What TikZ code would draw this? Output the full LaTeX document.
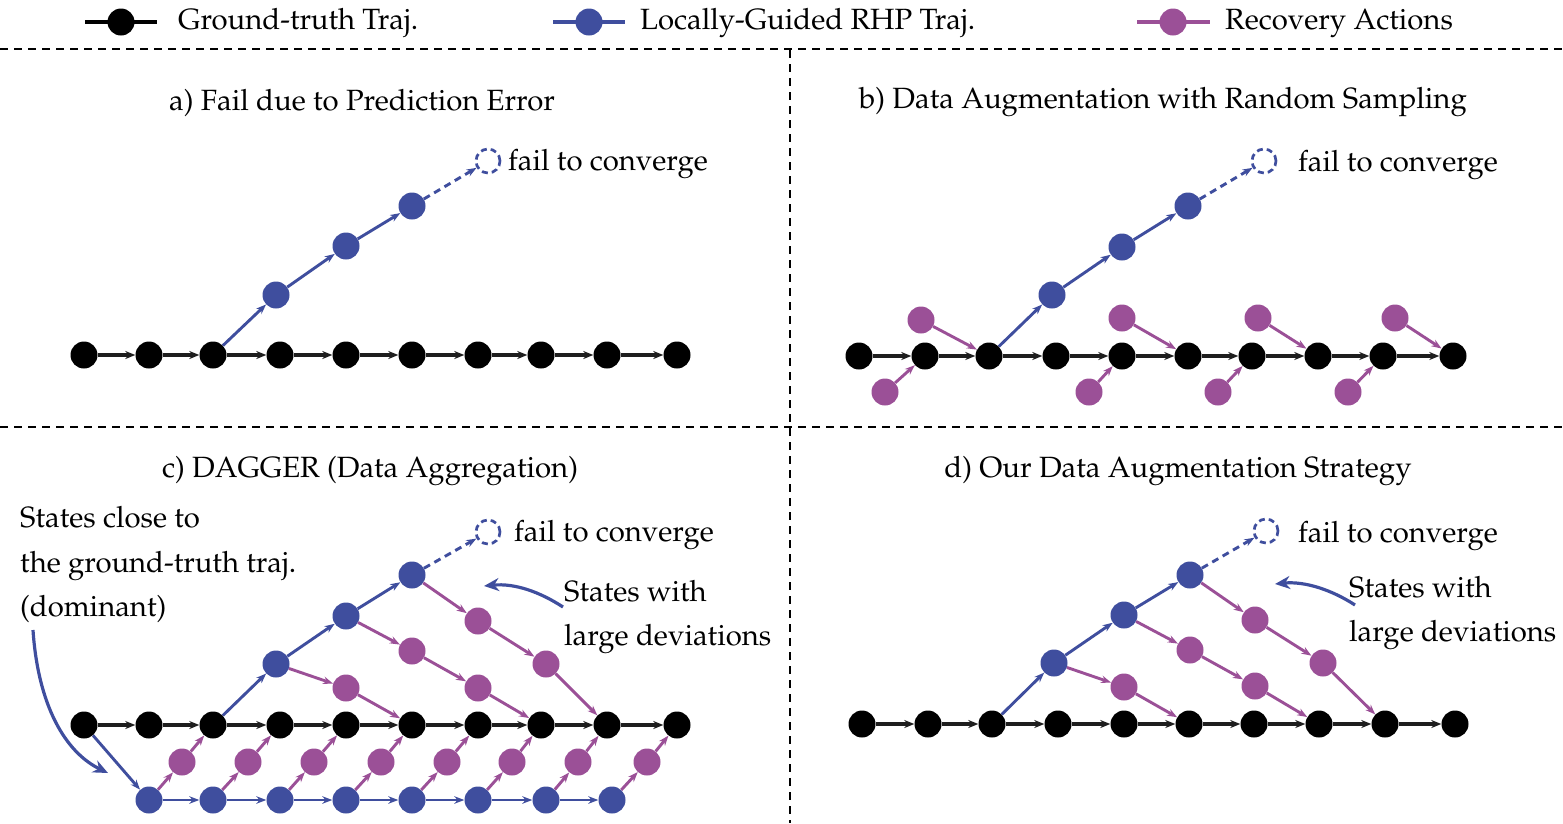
\documentclass[tikz,border=0pt]{standalone}
\usepackage[T1]{fontenc}
\usepackage{mathpazo}
\usetikzlibrary{arrows.meta}
\definecolor{myblue}{HTML}{3F4E9E}
\definecolor{mypurple}{HTML}{9B5097}
\definecolor{myblack}{HTML}{1E1E1E}
\begin{document}
\begin{tikzpicture}[x=1pt,y=-1pt,
  st/.style={circle,inner sep=0pt,minimum size=27pt},
  gt/.style={st,fill=black},
  bs/.style={st,fill=myblue},
  ps/.style={st,fill=mypurple},
  fs/.style={circle,inner sep=0pt,minimum size=24pt,draw=myblue,line width=2.7pt,dash pattern=on 6pt off 4pt},
  ga/.style={draw=myblack,line width=3.4pt,-{Stealth[length=10pt,width=8pt]}},
  ba/.style={draw=myblue,line width=2.9pt,-{Stealth[length=10pt,width=7.5pt]}},
  pa/.style={draw=mypurple,line width=2.9pt,-{Stealth[length=10pt,width=7.5pt]}},
  da/.style={ba,dash pattern=on 7pt off 5pt},
  sep/.style={line width=2.5pt,dash pattern=on 8pt off 6pt},
  txt/.style={font=\fontsize{29.3}{34}\selectfont,inner sep=0pt,anchor=base west},
  ttl/.style={font=\fontsize{29.3}{34}\selectfont,inner sep=0pt,anchor=base},
  big/.style={draw=myblue,line width=3.2pt,-{Stealth[length=15pt,width=13pt]}},
  lgl/.style={line width=3.4pt}
]
\useasboundingbox (0,0) rectangle (1563,823);

% ---------- legend ----------
\coordinate (l1a) at (85,22); \coordinate (l1b) at (157,22);
\coordinate (l2a) at (553,22); \coordinate (l2b) at (625,22);
\coordinate (l3a) at (1137,22); \coordinate (l3b) at (1210,22);
\draw[lgl,black] (l1a) -- (l1b);
\draw[lgl,myblue] (l2a) -- (l2b);
\draw[lgl,mypurple] (l3a) -- (l3b);
\node[gt] (lgn1) at (121,22) {};
\node[bs] (lgn2) at (589,22) {};
\node[ps] (lgn3) at (1173,22) {};
\node[txt] (lg1) at (178,29) {Ground-truth Traj.};
\node[txt] (lg2) at (640,29) {Locally-Guided RHP Traj.};
\node[txt] (lg3) at (1225,29) {Recovery Actions};

% ---------- separators ----------
\draw[sep] (0,49) -- (1563,49);
\draw[sep] (0,427) -- (1563,427);
\draw[sep] (790,50) -- (790,823);

% ---------- titles ----------
\node[ttl] (ta) at (362,110) {a) Fail due to Prediction Error};
\node[ttl] (tb) at (1163,108) {b) Data Augmentation with Random Sampling};
\node[ttl] (tc) at (370,477) {c) DAGGER (Data Aggregation)};
\node[ttl] (td) at (1178,477) {d) Our Data Augmentation Strategy};

% ---------- panel a ----------
\foreach \x [count=\i from 0] in {84,149,213,280,346,412,478,541,607,677}
  \node[gt] (a\i) at (\x,355) {};
\foreach \i [evaluate=\i as \j using int(\i+1)] in {0,...,8}
  \draw[ga] (a\i) -- (a\j);
\node[bs] (ab1) at (276,295) {};
\node[bs] (ab2) at (346,246) {};
\node[bs] (ab3) at (412,206) {};
\node[fs] (af) at (488,161) {};
\draw[ba] (a2) -- (ab1);
\draw[ba] (ab1) -- (ab2);
\draw[ba] (ab2) -- (ab3);
\draw[da] (ab3) -- (af);
\node[txt] (aft) at (508,170) {fail to converge};

% ---------- panel b ----------
\foreach \x [count=\i from 0] in {859,925,989,1056,1122,1188,1252,1318,1383,1453}
  \node[gt] (b\i) at (\x,356) {};
\foreach \i [evaluate=\i as \j using int(\i+1)] in {0,...,8}
  \draw[ga] (b\i) -- (b\j);
\node[bs] (bb1) at (1052,295) {};
\node[bs] (bb2) at (1122,247) {};
\node[bs] (bb3) at (1188,206) {};
\node[fs] (bf) at (1264,161) {};
\draw[ba] (b2) -- (bb1);
\draw[ba] (bb1) -- (bb2);
\draw[ba] (bb2) -- (bb3);
\draw[da] (bb3) -- (bf);
\node[txt] (bft) at (1298,171) {fail to converge};
\node[ps] (bu1) at (921,320) {};
\node[ps] (bu2) at (1122,318) {};
\node[ps] (bu3) at (1258,318) {};
\node[ps] (bu4) at (1395,318) {};
\node[ps] (bl1) at (885,392) {};
\node[ps] (bl2) at (1089,392) {};
\node[ps] (bl3) at (1218,392) {};
\node[ps] (bl4) at (1348,392) {};
\draw[pa] (bu1) -- (b2);
\draw[pa] (bu2) -- (b5);
\draw[pa] (bu3) -- (b7);
\draw[pa] (bu4) -- (b9);
\draw[pa] (bl1) -- (b1);
\draw[pa] (bl2) -- (b4);
\draw[pa] (bl3) -- (b6);
\draw[pa] (bl4) -- (b8);

% ---------- panel c ----------
\foreach \x [count=\i from 0] in {84,149,213,280,346,412,478,541,607,677}
  \node[gt] (c\i) at (\x,725) {};
\foreach \i [evaluate=\i as \j using int(\i+1)] in {0,...,8}
  \draw[ga] (c\i) -- (c\j);
\foreach \x [count=\i from 0] in {149,213,280,346,412,478,546,612}
  \node[bs] (cb\i) at (\x,800) {};
\foreach \x [count=\i from 0] in {182,248,314,381,447,512,578,647}
  \node[ps] (cm\i) at (\x,762) {};
\draw[ba] (c0) -- (cb0);
\foreach \i [evaluate=\i as \j using int(\i+1)] in {0,...,6}
  \draw[ba] (cb\i) -- (cb\j);
\foreach \i [evaluate=\i as \k using int(\i+2)] in {0,...,7}
  {\draw[pa] (cb\i) -- (cm\i); \draw[pa] (cm\i) -- (c\k);}
\node[bs] (cu1) at (276,664) {};
\node[bs] (cu2) at (346,616) {};
\node[bs] (cu3) at (412,575) {};
\node[fs] (cf) at (488,532) {};
\draw[ba] (c2) -- (cu1);
\draw[ba] (cu1) -- (cu2);
\draw[ba] (cu2) -- (cu3);
\draw[da] (cu3) -- (cf);
\node[ps] (cp1) at (346,688) {};
\node[ps] (cp2) at (412,651) {};
\node[ps] (cp3) at (478,688) {};
\node[ps] (cp4) at (478,621) {};
\node[ps] (cp5) at (546,664) {};
\draw[pa] (cu1) -- (cp1); \draw[pa] (cp1) -- (c5);
\draw[pa] (cu2) -- (cp2); \draw[pa] (cp2) -- (cp3); \draw[pa] (cp3) -- (c7);
\draw[pa] (cu3) -- (cp4); \draw[pa] (cp4) -- (cp5); \draw[pa] (cp5) -- (c8);
\node[txt] (cft) at (514,541) {fail to converge};
\node[txt] (cs1) at (564,601) {States with};
\node[txt] (cs2) at (564,645) {large deviations};
\coordinate (csa) at (563,607); \coordinate (cse) at (484,586);
\draw[big] (csa) .. controls (540,592) and (515,583) .. (cse);
\node[txt] (ls1) at (20,527) {States close to};
\node[txt] (ls2) at (20,572) {the ground-truth traj.};
\node[txt] (ls3) at (20,616) {(dominant)};
\coordinate (lsa) at (33,630); \coordinate (lse) at (108,773);
\draw[big] (lsa) .. controls (38,705) and (65,752) .. (lse);

% ---------- panel d ----------
\foreach \x [count=\i from 0] in {862,928,992,1058,1124,1189,1254,1319,1385,1455}
  \node[gt] (d\i) at (\x,724) {};
\foreach \i [evaluate=\i as \j using int(\i+1)] in {0,...,8}
  \draw[ga] (d\i) -- (d\j);
\node[bs] (du1) at (1054,663) {};
\node[bs] (du2) at (1124,615) {};
\node[bs] (du3) at (1190,575) {};
\node[fs] (df) at (1266,531) {};
\draw[ba] (d2) -- (du1);
\draw[ba] (du1) -- (du2);
\draw[ba] (du2) -- (du3);
\draw[da] (du3) -- (df);
\node[ps] (dp1) at (1124,687) {};
\node[ps] (dp2) at (1190,650) {};
\node[ps] (dp3) at (1255,686) {};
\node[ps] (dp4) at (1255,620) {};
\node[ps] (dp5) at (1323,663) {};
\draw[pa] (du1) -- (dp1); \draw[pa] (dp1) -- (d5);
\draw[pa] (du2) -- (dp2); \draw[pa] (dp2) -- (dp3); \draw[pa] (dp3) -- (d7);
\draw[pa] (du3) -- (dp4); \draw[pa] (dp4) -- (dp5); \draw[pa] (dp5) -- (d8);
\node[txt] (dft) at (1298,542) {fail to converge};
\node[txt] (ds1) at (1349,597) {States with};
\node[txt] (ds2) at (1349,641) {large deviations};
\coordinate (dsa) at (1355,605); \coordinate (dse) at (1275,584);
\draw[big] (dsa) .. controls (1332,590) and (1305,581) .. (dse);
\end{tikzpicture}
\end{document}
